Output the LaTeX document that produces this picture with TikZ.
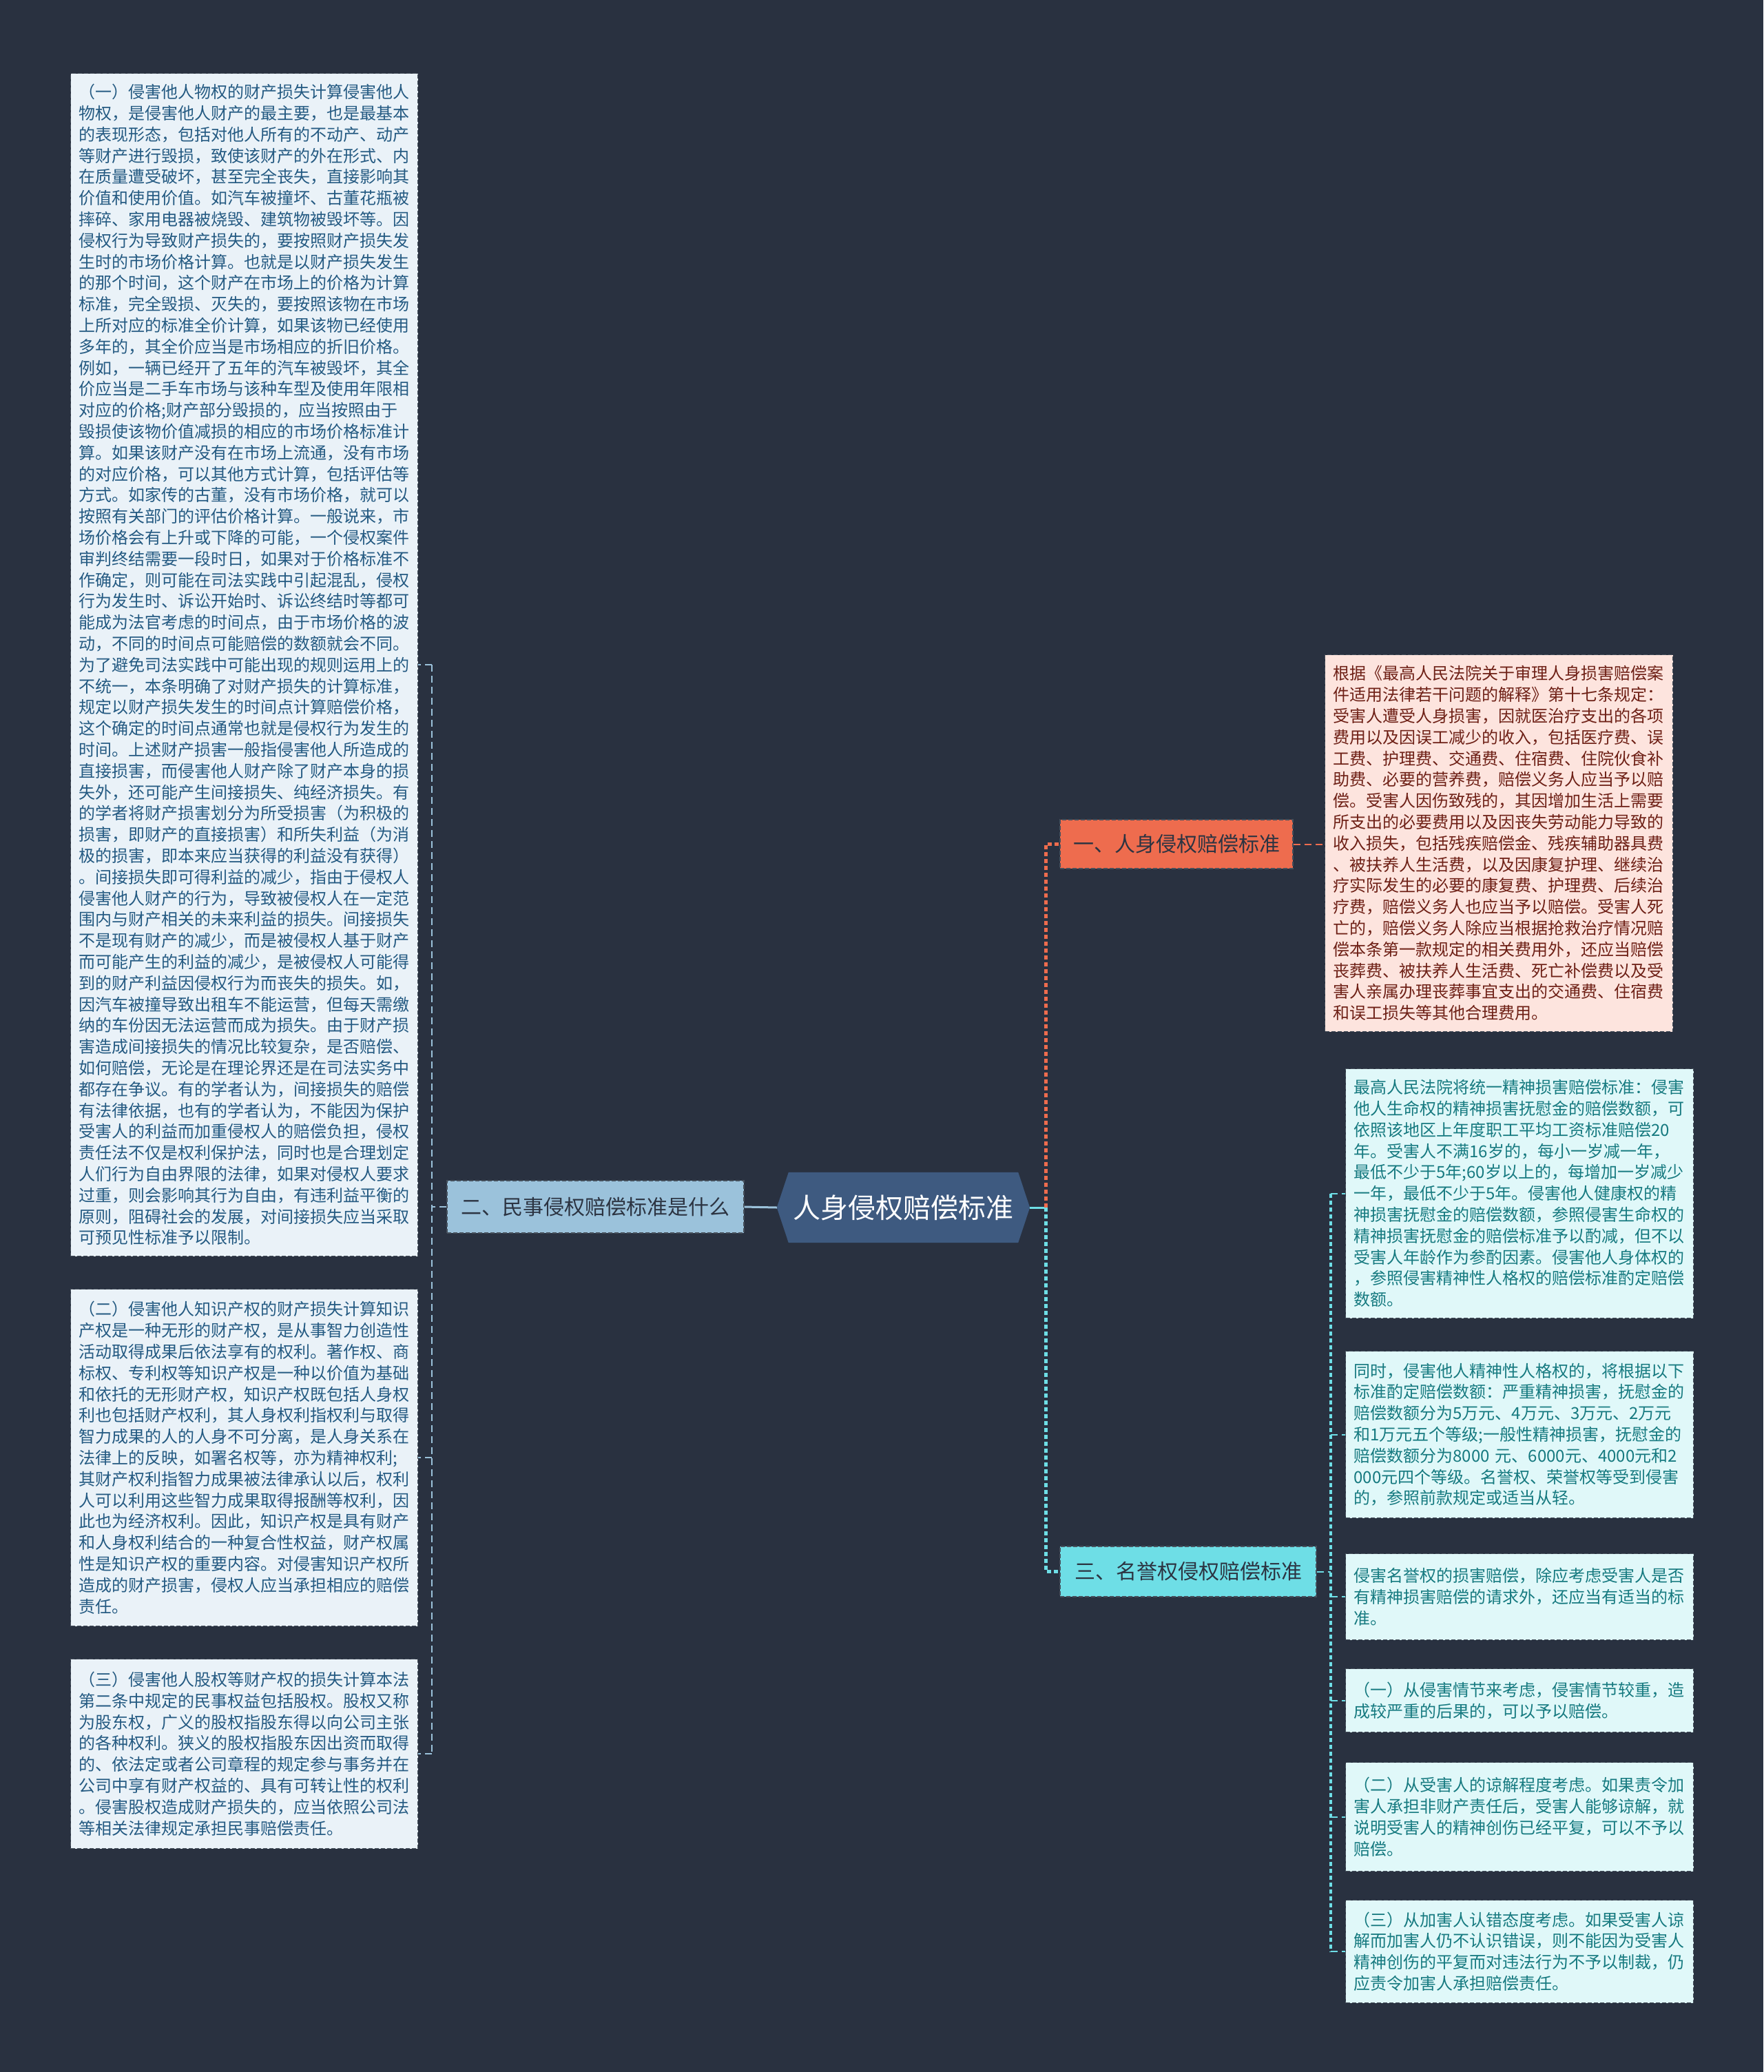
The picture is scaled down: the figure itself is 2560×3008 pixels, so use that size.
\documentclass[tikz,border=0pt]{standalone}
\usepackage{fontspec}
\setmainfont{Noto Sans CJK SC}
\usetikzlibrary{backgrounds}
\definecolor{bgc}{RGB}{41,49,64}
\definecolor{lfill}{RGB}{234,242,248}
\definecolor{ltext}{RGB}{36,90,130}
\definecolor{pfill}{RGB}{253,228,222}
\definecolor{ptext}{RGB}{110,32,22}
\definecolor{cfill}{RGB}{224,248,249}
\definecolor{ctext}{RGB}{22,122,128}
\definecolor{ofill}{RGB}{238,108,78}
\definecolor{cyfill}{RGB}{110,222,230}
\definecolor{lbfill}{RGB}{155,194,219}
\definecolor{cenfill}{RGB}{62,90,128}
\definecolor{darktext}{RGB}{44,52,66}
\definecolor{bordc}{RGB}{70,80,92}
\begin{document}
\begin{tikzpicture}[x=1pt,y=-1pt,
  blk/.style={anchor=north west, rectangle, draw=bordc, line width=1.2pt, dash pattern=on 6pt off 3pt,
    inner xsep=12pt, inner ysep=0pt, align=left, font=\fontsize{24}{30.8}\selectfont},
  leftblk/.style={blk, fill=lfill, text=ltext, text width=480pt},
  pinkblk/.style={blk, fill=pfill, text=ptext, text width=481pt},
  cyanblk/.style={blk, fill=cfill, text=ctext, text width=481pt},
  branch/.style={rectangle, draw=bordc, line width=1.2pt, dash pattern=on 6pt off 3pt,
    inner sep=0pt, font=\fontsize{30}{36}\selectfont, text=darktext},
  lconn/.style={draw=lbfill, line width=2pt, dash pattern=on 10pt off 6pt},
  oconn/.style={draw=ofill, line width=5pt, dash pattern=on 6pt off 4pt},
  cconn/.style={draw=cyfill, line width=5pt, dash pattern=on 6pt off 4pt},
  othin/.style={draw=ofill, line width=2pt, dash pattern=on 10pt off 6pt},
  cthin/.style={draw=cyfill, line width=2pt, dash pattern=on 10pt off 6pt}
]
\useasboundingbox (0,0) rectangle (2560,3008);
\begin{pgfonlayer}{background}
\fill[bgc] (0,0) rectangle (2560,3008);
\end{pgfonlayer}

% central node
\node[inner sep=0pt, minimum width=367pt, minimum height=102pt, text=white,
  font=\fontsize{40}{48}\selectfont] (C) at (1311.5,1753) {人身侵权赔偿标准};
\begin{pgfonlayer}{background}
\fill[cenfill] (C.west) -- ([xshift=17pt]C.north west) -- ([xshift=-17pt]C.north east)
  -- (C.east) -- ([xshift=-17pt]C.south east) -- ([xshift=17pt]C.south west) -- cycle;
\end{pgfonlayer}

% branches
\node[branch, fill=lbfill, minimum width=431pt, minimum height=76pt] (L) at (864.5,1752) {二、民事侵权赔偿标准是什么};
\node[branch, fill=ofill, minimum width=338pt, minimum height=71pt] (R1) at (1708,1225.5) {一、人身侵权赔偿标准};
\node[branch, fill=cyfill, minimum width=372pt, minimum height=73pt] (R3) at (1725,2281.5) {三、名誉权侵权赔偿标准};

% left blocks
\node[leftblk, minimum height=1717pt] (lb1) at (102,106) {（一）侵害他人物权的财产损失计算侵害他人\\
物权，是侵害他人财产的最主要，也是最基本\\
的表现形态，包括对他人所有的不动产、动产\\
等财产进行毁损，致使该财产的外在形式、内\\
在质量遭受破坏，甚至完全丧失，直接影响其\\
价值和使用价值。如汽车被撞坏、古董花瓶被\\
摔碎、家用电器被烧毁、建筑物被毁坏等。因\\
侵权行为导致财产损失的，要按照财产损失发\\
生时的市场价格计算。也就是以财产损失发生\\
的那个时间，这个财产在市场上的价格为计算\\
标准，完全毁损、灭失的，要按照该物在市场\\
上所对应的标准全价计算，如果该物已经使用\\
多年的，其全价应当是市场相应的折旧价格。\\
例如，一辆已经开了五年的汽车被毁坏，其全\\
价应当是二手车市场与该种车型及使用年限相\\
对应的价格;财产部分毁损的，应当按照由于\\
毁损使该物价值减损的相应的市场价格标准计\\
算。如果该财产没有在市场上流通，没有市场\\
的对应价格，可以其他方式计算，包括评估等\\
方式。如家传的古董，没有市场价格，就可以\\
按照有关部门的评估价格计算。一般说来，市\\
场价格会有上升或下降的可能，一个侵权案件\\
审判终结需要一段时日，如果对于价格标准不\\
作确定，则可能在司法实践中引起混乱，侵权\\
行为发生时、诉讼开始时、诉讼终结时等都可\\
能成为法官考虑的时间点，由于市场价格的波\\
动，不同的时间点可能赔偿的数额就会不同。\\
为了避免司法实践中可能出现的规则运用上的\\
不统一，本条明确了对财产损失的计算标准，\\
规定以财产损失发生的时间点计算赔偿价格，\\
这个确定的时间点通常也就是侵权行为发生的\\
时间。上述财产损害一般指侵害他人所造成的\\
直接损害，而侵害他人财产除了财产本身的损\\
失外，还可能产生间接损失、纯经济损失。有\\
的学者将财产损害划分为所受损害（为积极的\\
损害，即财产的直接损害）和所失利益（为消\\
极的损害，即本来应当获得的利益没有获得）\\
。间接损失即可得利益的减少，指由于侵权人\\
侵害他人财产的行为，导致被侵权人在一定范\\
围内与财产相关的未来利益的损失。间接损失\\
不是现有财产的减少，而是被侵权人基于财产\\
而可能产生的利益的减少，是被侵权人可能得\\
到的财产利益因侵权行为而丧失的损失。如，\\
因汽车被撞导致出租车不能运营，但每天需缴\\
纳的车份因无法运营而成为损失。由于财产损\\
害造成间接损失的情况比较复杂，是否赔偿、\\
如何赔偿，无论是在理论界还是在司法实务中\\
都存在争议。有的学者认为，间接损失的赔偿\\
有法律依据，也有的学者认为，不能因为保护\\
受害人的利益而加重侵权人的赔偿负担，侵权\\
责任法不仅是权利保护法，同时也是合理划定\\
人们行为自由界限的法律，如果对侵权人要求\\
过重，则会影响其行为自由，有违利益平衡的\\
原则，阻碍社会的发展，对间接损失应当采取\\
可预见性标准予以限制。};

\node[leftblk, minimum height=489pt] (lb2) at (102,1871) {（二）侵害他人知识产权的财产损失计算知识\\
产权是一种无形的财产权，是从事智力创造性\\
活动取得成果后依法享有的权利。著作权、商\\
标权、专利权等知识产权是一种以价值为基础\\
和依托的无形财产权，知识产权既包括人身权\\
利也包括财产权利，其人身权利指权利与取得\\
智力成果的人的人身不可分离，是人身关系在\\
法律上的反映，如署名权等，亦为精神权利;\\
其财产权利指智力成果被法律承认以后，权利\\
人可以利用这些智力成果取得报酬等权利，因\\
此也为经济权利。因此，知识产权是具有财产\\
和人身权利结合的一种复合性权益，财产权属\\
性是知识产权的重要内容。对侵害知识产权所\\
造成的财产损害，侵权人应当承担相应的赔偿\\
责任。};

\node[leftblk, minimum height=275pt] (lb3) at (102,2408) {（三）侵害他人股权等财产权的损失计算本法\\
第二条中规定的民事权益包括股权。股权又称\\
为股东权，广义的股权指股东得以向公司主张\\
的各种权利。狭义的股权指股东因出资而取得\\
的、依法定或者公司章程的规定参与事务并在\\
公司中享有财产权益的、具有可转让性的权利\\
。侵害股权造成财产损失的，应当依照公司法\\
等相关法律规定承担民事赔偿责任。};

% right pink block
\node[pinkblk, minimum height=547pt] (pk) at (1923,950) {根据《最高人民法院关于审理人身损害赔偿案\\
件适用法律若干问题的解释》第十七条规定：\\
受害人遭受人身损害，因就医治疗支出的各项\\
费用以及因误工减少的收入，包括医疗费、误\\
工费、护理费、交通费、住宿费、住院伙食补\\
助费、必要的营养费，赔偿义务人应当予以赔\\
偿。受害人因伤致残的，其因增加生活上需要\\
所支出的必要费用以及因丧失劳动能力导致的\\
收入损失，包括残疾赔偿金、残疾辅助器具费\\
、被扶养人生活费，以及因康复护理、继续治\\
疗实际发生的必要的康复费、护理费、后续治\\
疗费，赔偿义务人也应当予以赔偿。受害人死\\
亡的，赔偿义务人除应当根据抢救治疗情况赔\\
偿本条第一款规定的相关费用外，还应当赔偿\\
丧葬费、被扶养人生活费、死亡补偿费以及受\\
害人亲属办理丧葬事宜支出的交通费、住宿费\\
和误工损失等其他合理费用。};

% right cyan blocks
\node[cyanblk, minimum height=362pt] (b2) at (1953,1551) {最高人民法院将统一精神损害赔偿标准：侵害\\
他人生命权的精神损害抚慰金的赔偿数额，可\\
依照该地区上年度职工平均工资标准赔偿20\\
年。受害人不满16岁的，每小一岁减一年，\\
最低不少于5年;60岁以上的，每增加一岁减少\\
一年，最低不少于5年。侵害他人健康权的精\\
神损害抚慰金的赔偿数额，参照侵害生命权的\\
精神损害抚慰金的赔偿标准予以酌减，但不以\\
受害人年龄作为参酌因素。侵害他人身体权的\\
，参照侵害精神性人格权的赔偿标准酌定赔偿\\
数额。};

\node[cyanblk, minimum height=242pt] (b3) at (1953,1961) {同时，侵害他人精神性人格权的，将根据以下\\
标准酌定赔偿数额：严重精神损害，抚慰金的\\
赔偿数额分为5万元、4万元、3万元、2万元\\
和1万元五个等级;一般性精神损害，抚慰金的\\
赔偿数额分为8000 元、6000元、4000元和2\\
000元四个等级。名誉权、荣誉权等受到侵害\\
的，参照前款规定或适当从轻。};

\node[cyanblk, minimum height=125pt] (b4) at (1953,2255) {侵害名誉权的损害赔偿，除应考虑受害人是否\\
有精神损害赔偿的请求外，还应当有适当的标\\
准。};

\node[cyanblk, minimum height=92pt] (b5) at (1953,2422) {（一）从侵害情节来考虑，侵害情节较重，造\\
成较严重的后果的，可以予以赔偿。};

\node[cyanblk, minimum height=158pt] (b6) at (1953,2558) {（二）从受害人的谅解程度考虑。如果责令加\\
害人承担非财产责任后，受害人能够谅解，就\\
说明受害人的精神创伤已经平复，可以不予以\\
赔偿。};

\node[cyanblk, minimum height=149pt] (b7) at (1953,2758) {（三）从加害人认错态度考虑。如果受害人谅\\
解而加害人仍不认识错误，则不能因为受害人\\
精神创伤的平复而对违法行为不予以制裁，仍\\
应责令加害人承担赔偿责任。};

% connectors: left side
\draw[draw=lbfill, line width=3pt] (C.west) -- (L.east);
\coordinate (lj) at (627,1752);
\draw[lconn] (L.west) -- (lj);
\draw[lconn] (lb1.east -| lj) -- (lb3.east -| lj);
\draw[lconn] (lb1.east -| lj) -- (lb1.east);
\draw[lconn] (lb2.east -| lj) -- (lb2.east);
\draw[lconn] (lb3.east -| lj) -- (lb3.east);

% connectors: right side
\coordinate (rj) at (1518,1753);
\draw[draw=cyfill, line width=3pt] (C.east) -- (rj);
\draw[oconn] (rj) -- (rj |- R1.west) -- (R1.west);
\draw[cconn] (rj) -- (rj |- R3.west) -- (R3.west);
\draw[othin] (R1.east) -- (R1.east -| pk.west);
\coordinate (cj) at (1932,2281.5);
\draw[cthin] (R3.east) -- (cj);
\draw[cconn, line width=4pt] (b2.west -| cj) -- (b7.west -| cj);
\foreach \b in {b2,b3,b4,b5,b6,b7}{
  \draw[cthin] (\b.west -| cj) -- (\b.west);
}
\end{tikzpicture}
\end{document}
